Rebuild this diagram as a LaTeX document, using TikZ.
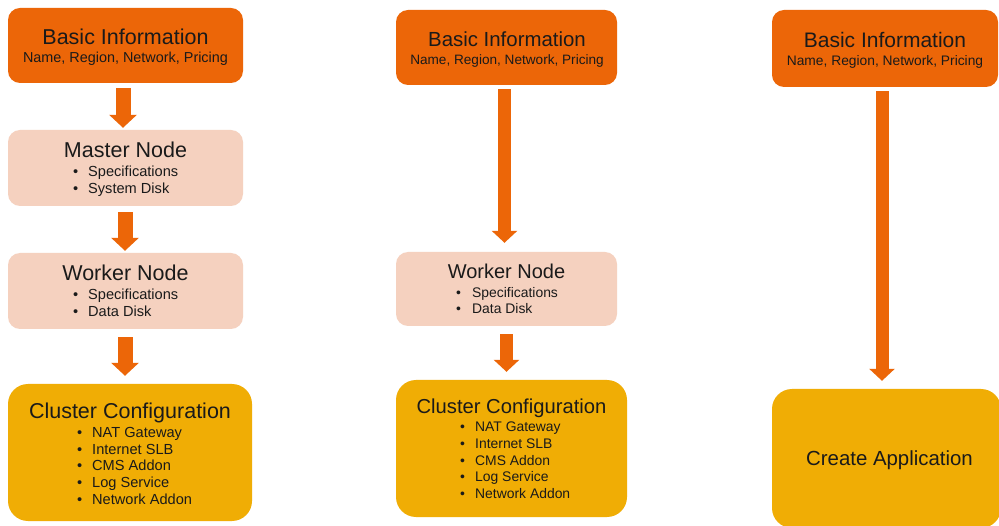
\documentclass[tikz,border=0pt]{standalone}
\usepackage{fontspec}
\setmainfont{Liberation Sans}
\usetikzlibrary{arrows.meta}
\definecolor{orng}{HTML}{EC6608}
\definecolor{peach}{HTML}{F5D1BF}
\definecolor{gold}{HTML}{F0AD05}
\definecolor{ink}{HTML}{1A1A1A}
\newcommand{\fsz}[1]{\fontsize{#1}{#1}\selectfont}
\tikzset{
  box/.style={rounded corners=12pt, inner sep=0pt, draw=none},
  infobox/.style={box, fill=orng},
  nodebox/.style={box, fill=peach},
  cfgbox/.style={box, fill=gold, rounded corners=20pt},
  txt/.style={inner sep=0pt, text=ink, anchor=base},
  bul/.style={inner sep=0pt, text=ink, anchor=base west},
  barrowA/.style={draw=orng, line width=15pt, -{Triangle[length=13pt, width=27pt]}},
  barrowB/.style={draw=orng, line width=13pt, -{Triangle[length=12pt, width=25pt]}},
}
\begin{document}
\begin{tikzpicture}[x=1pt, y=-1pt]
\clip (0,0) rectangle (999,526);
\fill[white] (0,0) rectangle (999,526);

% ---------- column 1 ----------
\node[infobox, minimum width=235pt, minimum height=75pt] (bi1) at (125.5,45.5) {};
\node[txt, font=\fsz{21.5}] (bi1t) at (125.5,45) {Basic Information};
\node[txt, font=\fsz{14.4}] (bi1s) at (125.5,62.5) {Name, Region, Network, Pricing};

\node[nodebox, minimum width=235pt, minimum height=76pt] (mn1) at (125.5,168) {};
\node[txt, font=\fsz{21.5}] (mn1t) at (125.5,158) {Master Node};
\foreach \t [count=\i] in {Specifications, System Disk}
  \node[bul, font=\fsz{14.6}] (mn1b\i) at (73,176.5+16.8*\i-16.8) {\makebox[15pt][l]{\textbullet}\t};

\node[nodebox, minimum width=235pt, minimum height=76pt] (wn1) at (125.5,291) {};
\node[txt, font=\fsz{21.5}] (wn1t) at (125.5,281) {Worker Node};
\foreach \t [count=\i] in {Specifications, Data Disk}
  \node[bul, font=\fsz{14.6}] (wn1b\i) at (73,300+16.5*\i-16.5) {\makebox[15pt][l]{\textbullet}\t};

\node[cfgbox, minimum width=244pt, minimum height=137pt] (cc1) at (130,452.5) {};
\node[txt, font=\fsz{21.5}] (cc1t) at (130,419) {Cluster Configuration};
\foreach \t [count=\i] in {NAT Gateway, Internet SLB, CMS Addon, Log Service, Network Addon}
  \node[bul, font=\fsz{14.6}] (cc1b\i) at (77,437.3+16.8*\i-16.8) {\makebox[15pt][l]{\textbullet}\t};

\draw[barrowA] ([xshift=-2.5pt,yshift=-5pt]bi1.south) -- ([xshift=-2.5pt,yshift=2pt]mn1.north);
\draw[barrowA] ([xshift=-0.5pt,yshift=-6pt]mn1.south) -- ([xshift=-0.5pt,yshift=2pt]wn1.north);
\draw[barrowA] ([xshift=-0.5pt,yshift=-8pt]wn1.south) -- ([xshift=-5pt,yshift=8pt]cc1.north);

% ---------- column 2 ----------
\node[infobox, minimum width=221pt, minimum height=75pt] (bi2) at (506.5,47.5) {};
\node[txt, font=\fsz{20.4}] (bi2t) at (507,47) {Basic Information};
\node[txt, font=\fsz{13.6}] (bi2s) at (507,64.5) {Name, Region, Network, Pricing};

\node[nodebox, minimum width=221pt, minimum height=74pt] (wn2) at (506.5,289) {};
\node[txt, font=\fsz{20}] (wn2t) at (506.5,279) {Worker Node};
\foreach \t [count=\i] in {Specifications, Data Disk}
  \node[bul, font=\fsz{13.9}] (wn2b\i) at (456,297.3+16*\i-16) {\makebox[16pt][l]{\textbullet}\t};

\node[cfgbox, minimum width=231pt, minimum height=137pt] (cc2) at (511.5,448.5) {};
\node[txt, font=\fsz{20.2}] (cc2t) at (511.5,414) {Cluster Configuration};
\foreach \t [count=\i] in {NAT Gateway, Internet SLB, CMS Addon, Log Service, Network Addon}
  \node[bul, font=\fsz{13.9}] (cc2b\i) at (460,431.7+16.65*\i-16.65) {\makebox[15pt][l]{\textbullet}\t};

\draw[barrowB] ([xshift=-2pt,yshift=-4pt]bi2.south) -- ([xshift=-2pt,yshift=9pt]wn2.north);
\draw[barrowB] ([xshift=0pt,yshift=-8pt]wn2.south) -- ([xshift=-5pt,yshift=8pt]cc2.north);

% ---------- column 3 ----------
\node[infobox, minimum width=226pt, minimum height=77pt] (bi3) at (885,48.5) {};
\node[txt, font=\fsz{21}] (bi3t) at (885,48) {Basic Information};
\node[txt, font=\fsz{13.8}] (bi3s) at (885,66) {Name, Region, Network, Pricing};

\node[cfgbox, minimum width=229pt, minimum height=139pt] (ca3) at (886.5,458.5) {};
\node[txt, font=\fsz{20.4}] (ca3t) at (889.5,466) {Create Application};

\draw[barrowB] ([xshift=-3pt,yshift=-4pt]bi3.south) -- ([xshift=-4.5pt,yshift=8pt]ca3.north);
\end{tikzpicture}
\end{document}
